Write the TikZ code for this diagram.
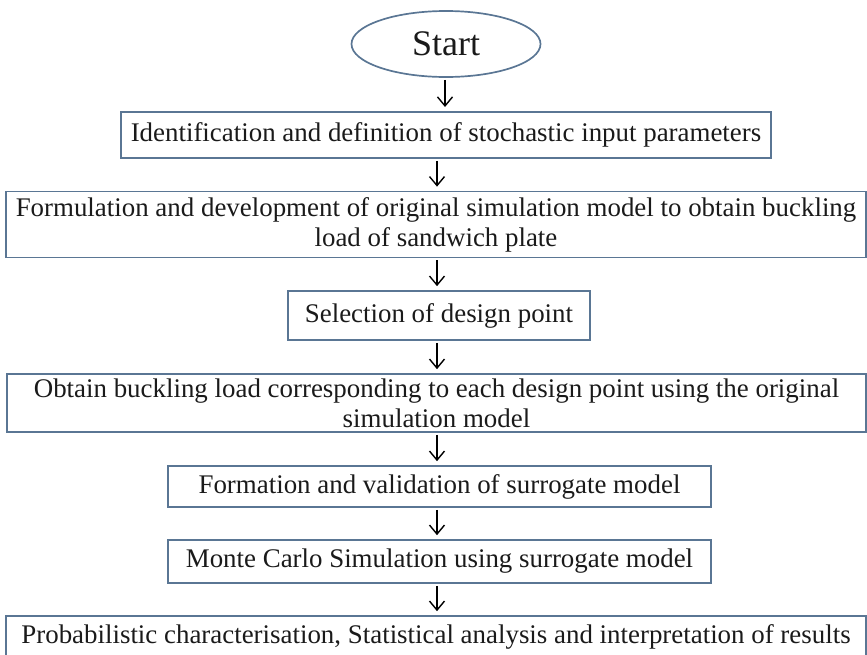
\documentclass[tikz,border=0pt]{standalone}
\usepackage{fontspec}
\setmainfont{Liberation Serif}
\usetikzlibrary{arrows.meta,shapes.geometric}
\definecolor{boxc}{HTML}{5A7694}
\definecolor{txt}{HTML}{1A1A1A}
\begin{document}
\begin{tikzpicture}[x=1pt,y=-1pt,
  box/.style={draw=boxc, line width=1.7pt, rectangle, inner sep=0pt, text=txt,
    font=\fontsize{26.9}{30}\selectfont, align=center},
  startnode/.style={draw=boxc, line width=1.7pt, ellipse, inner sep=0pt, text=txt,
    font=\fontsize{36}{40}\selectfont, minimum width=189pt, minimum height=66pt},
  arr/.style={-{Straight Barb[length=9pt,width=15pt,line width=1.4pt]}, line width=1.4pt, black}]
\useasboundingbox (0,0) rectangle (867,654);
\node[startnode] (s) at (446,44) {Start};
\node[box, minimum width=650pt, minimum height=46pt] (b1) at (446,135) {Identification and definition of stochastic input parameters};
\node[box, minimum width=860pt, minimum height=66pt] (b2) at (436,224.5) {Formulation and development of original simulation model to obtain buckling\\load of sandwich plate};
\node[box, minimum width=302pt, minimum height=49pt] (b3) at (439,315.5) {Selection of design point};
\node[box, minimum width=859pt, minimum height=58pt] (b4) at (436.5,403) {Obtain buckling load corresponding to each design point using the original\\simulation model};
\node[box, minimum width=543pt, minimum height=41pt] (b5) at (439.5,486.5) {Formation and validation of surrogate model};
\node[box, minimum width=543pt, minimum height=43pt] (b6) at (439.5,561.5) {Monte Carlo Simulation using surrogate model};
\node[box, minimum width=860pt, minimum height=42pt] (b7) at (436,637) {Probabilistic characterisation, Statistical analysis and interpretation of results};
\draw[arr] (s.south -| 445,0) ++(0,2) coordinate (a0) -- (445,107);
\coordinate (x) at (437,0);
\draw[arr] (b1.south -| x) ++(0,2) -- ([yshift=4pt]b2.north -| x);
\draw[arr] (b2.south -| x) ++(0,2) -- ([yshift=4pt]b3.north -| x);
\draw[arr] (b3.south -| x) ++(0,2) -- ([yshift=4pt]b4.north -| x);
\draw[arr] (b4.south -| x) ++(0,2) -- ([yshift=4pt]b5.north -| x);
\draw[arr] (b5.south -| x) ++(0,2) -- ([yshift=4pt]b6.north -| x);
\draw[arr] (b6.south -| x) ++(0,2) -- ([yshift=4pt]b7.north -| x);
\end{tikzpicture}
\end{document}
